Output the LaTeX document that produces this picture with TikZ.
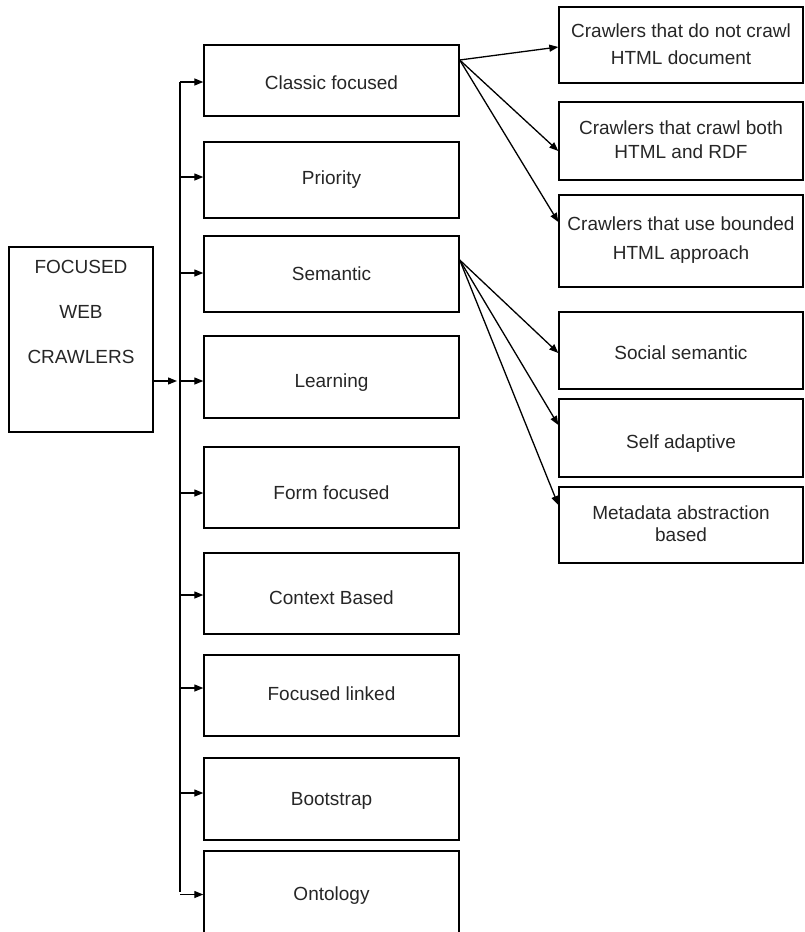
\documentclass[tikz,border=0pt]{standalone}
\usepackage{fontspec}
\setmainfont{Liberation Sans}
\usetikzlibrary{arrows.meta,calc}
\newcommand\BX[6]{\node[box, minimum width={#4-#2}, minimum height={#5-#3}] (#1) at ({(#2+#4)/2},{(#3+#5)/2}) {};}
\begin{document}
\begin{tikzpicture}[x=1pt,y=-1pt,
  box/.style={draw=black, line width=1.4pt, inner sep=0pt},
  lbl/.style={inner sep=0pt, text=black!85, align=center, font=\fontsize{19}{22}\selectfont},
  conn/.style={draw=black, line width=1.3pt},
  arr/.style={conn, -{Triangle[length=9pt,width=7pt]}}]
\useasboundingbox (0,0) rectangle (804,932);
% root
\BX{root}{9}{247}{153}{432}{}
\node[lbl, font=\fontsize{19}{45}\selectfont] (roottxt) at (81,312) {FOCUSED\\WEB\\CRAWLERS};
% middle column
\BX{classic}{204}{45}{459}{116}{}
\BX{prio}{204}{142}{459}{218}{}
\BX{sem}{204}{236}{459}{312}{}
\BX{learn}{204}{336}{459}{418}{}
\BX{form}{204}{447}{459}{528}{}
\BX{ctx}{204}{553}{459}{634}{}
\BX{flink}{204}{655}{459}{736}{}
\BX{boot}{204}{758}{459}{840}{}
\BX{onto}{204}{851}{459}{945}{}
\node[lbl, anchor=base] (t1) at (331.5,89) {Classic focused};
\node[lbl, anchor=base] (t2) at (331.5,184) {Priority};
\node[lbl, anchor=base] (t3) at (331.5,280) {Semantic};
\node[lbl, anchor=base] (t4) at (331.5,387) {Learning};
\node[lbl, anchor=base] (t5) at (331.5,499) {Form focused};
\node[lbl, anchor=base] (t6) at (331.5,604) {Context Based};
\node[lbl, anchor=base] (t7) at (331.5,700) {Focused linked};
\node[lbl, anchor=base] (t8) at (331.5,805) {Bootstrap};
\node[lbl, anchor=base] (t9) at (331.5,900) {Ontology};
% right column
\BX{r1}{559}{7}{803}{83}{}
\BX{r2}{559}{102}{803}{180}{}
\BX{r3}{559}{195}{803}{287}{}
\BX{r4}{559}{312}{803}{389}{}
\BX{r5}{559}{399}{803}{477}{}
\BX{r6}{559}{487}{803}{563}{}
\node[lbl] (u1) at (681,44) {Crawlers that do not crawl\\[5pt]HTML document};
\node[lbl] (u2) at (681,140) {Crawlers that crawl both\\[2pt]HTML and RDF};
\node[lbl] (u3) at (681,240) {Crawlers that use bounded\\[7pt]HTML approach};
\node[lbl, anchor=base] (u4) at (681,359) {Social semantic};
\node[lbl, anchor=base] (u5) at (681,448) {Self adaptive};
\node[lbl] (u6) at (681,524) {Metadata abstraction\\based};
% bus
\coordinate (bustop) at (180,82);
\coordinate (busbot) at (180,892);
\coordinate (bj) at (177,381);
\draw[conn] (bustop) -- (busbot);
\draw[arr] ([yshift=-41.5pt]root.east) -- (bj);
\foreach \n/\s in {classic/-1.5, prio/3, sem/1, learn/-4, form/-5.5, ctx/-1.5, flink/7.5, boot/6, onto/3.5}{
  \coordinate (\n-in) at ([yshift=\s pt]\n.west);
  \draw[arr] (bustop |- \n-in) -- (\n-in);
}
% right arrows
\coordinate (cf-out) at ([yshift=20.5pt]classic.east);
\coordinate (se-out) at ([yshift=14pt]sem.east);
\draw[arr] (cf-out) -- ([yshift=-2pt]r1.west);
\draw[arr] (cf-out) -- ([yshift=-10pt]r2.west);
\draw[arr] (cf-out) -- ([yshift=19pt]r3.west);
\draw[arr] (se-out) -- ([yshift=-2.5pt]r4.west);
\draw[arr] (se-out) -- ([yshift=13pt]r5.west);
\draw[arr] (se-out) -- ([yshift=20pt]r6.west);
\end{tikzpicture}
\end{document}
